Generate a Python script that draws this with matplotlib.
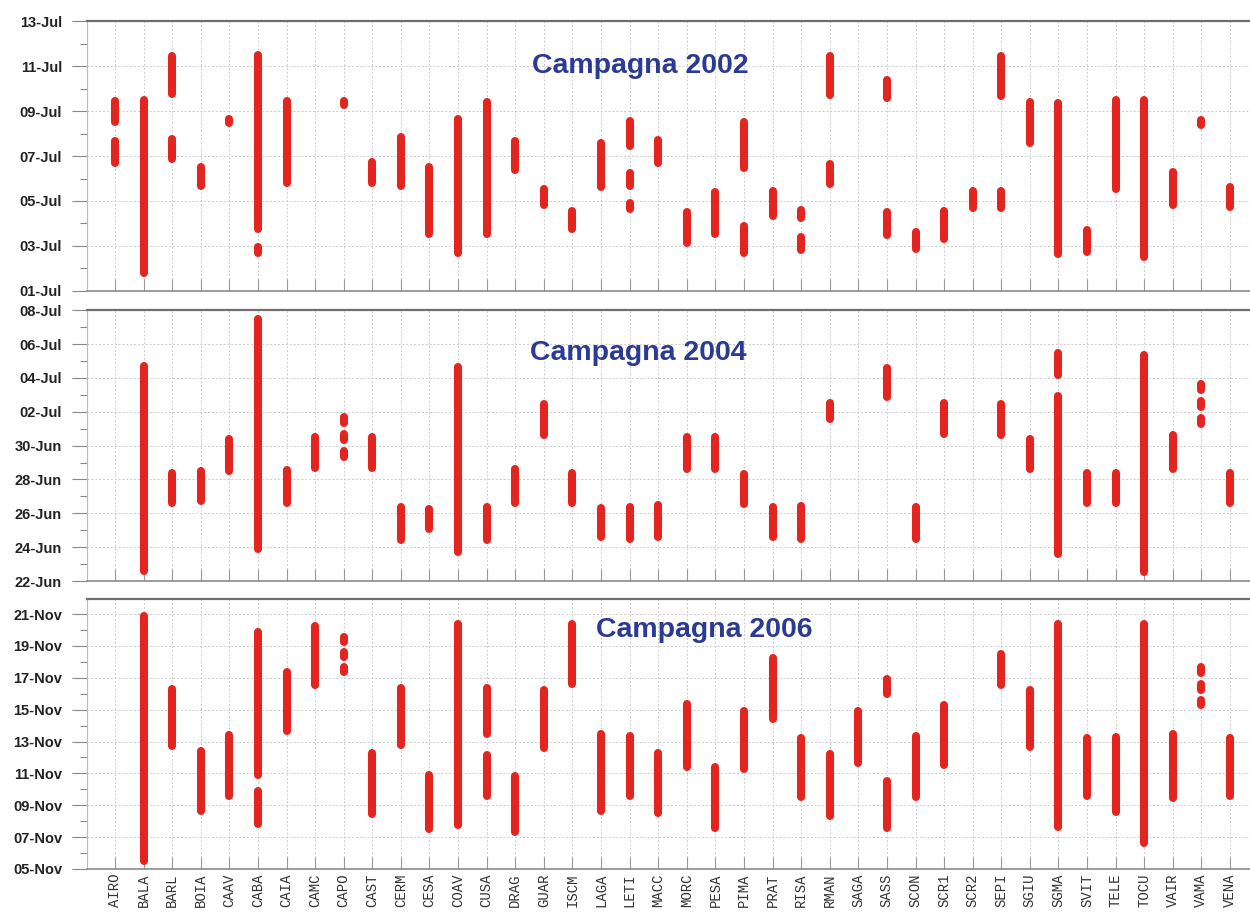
import datetime as dt
import numpy as np
import matplotlib
matplotlib.use("Agg")
import matplotlib.pyplot as plt
import matplotlib.dates as mdates
from matplotlib.ticker import MultipleLocator, FixedLocator

# station codes along the x axis
stations = ["AIRO", "BALA", "BARL", "BOIA", "CAAV", "CABA", "CAIA", "CAMC", "CAPO", "CAST",
            "CERM", "CESA", "COAV", "CUSA", "DRAG", "GUAR", "ISCM", "LAGA", "LETI", "MACC",
            "MORC", "PESA", "PIMA", "PRAT", "RISA", "RMAN", "SAGA", "SASS", "SCON", "SCR1",
            "SCR2", "SEPI", "SGIU", "SGMA", "SVIT", "TELE", "TOCU", "VAIR", "VAMA", "VENA"]

# Campagna 2002 - (station, start day, end day), days of July
camp_2002 = [
    ("AIRO", 8.5, 9.45), ("AIRO", 6.7, 7.65), ("BALA", 1.8, 9.5),
    ("BARL", 9.75, 11.45), ("BARL", 6.85, 7.75), ("BOIA", 5.65, 6.5),
    ("CAAV", 8.45, 8.65), ("CABA", 3.75, 11.5), ("CABA", 2.7, 2.95),
    ("CAIA", 5.8, 9.45), ("CAPO", 9.25, 9.45), ("CAST", 5.8, 6.75),
    ("CERM", 5.65, 7.85), ("CESA", 3.55, 6.5), ("COAV", 2.7, 8.65),
    ("CUSA", 3.55, 9.4), ("DRAG", 6.4, 7.65), ("GUAR", 4.8, 5.55),
    ("ISCM", 3.75, 4.55), ("LAGA", 5.6, 7.6), ("LETI", 7.45, 8.55),
    ("LETI", 5.65, 6.25), ("LETI", 4.65, 4.9), ("MACC", 6.7, 7.7),
    ("MORC", 3.15, 4.5), ("PESA", 3.55, 5.4), ("PIMA", 6.45, 8.5),
    ("PIMA", 2.7, 3.9), ("PRAT", 4.35, 5.45), ("RISA", 4.25, 4.6),
    ("RISA", 2.8, 3.4), ("RMAN", 9.7, 11.45), ("RMAN", 5.75, 6.65),
    ("SASS", 9.6, 10.4), ("SASS", 3.5, 4.5), ("SCON", 2.85, 3.6),
    ("SCR1", 3.3, 4.55), ("SCR2", 4.7, 5.45), ("SEPI", 9.65, 11.45),
    ("SEPI", 4.7, 5.45), ("SGIU", 7.6, 9.4), ("SGMA", 2.65, 9.35),
    ("SVIT", 2.75, 3.7), ("TELE", 5.55, 9.5), ("TOCU", 2.5, 9.5),
    ("VAIR", 4.8, 6.3), ("VAMA", 8.4, 8.6), ("VENA", 4.75, 5.6),
]

# Campagna 2004 - days counted from 1 June (31 = 1 July)
camp_2004 = [
    ("BALA", 22.6, 34.7), ("BARL", 26.6, 28.4), ("BOIA", 26.7, 28.5),
    ("CAAV", 28.5, 30.4), ("CABA", 23.9, 37.45), ("CAIA", 26.6, 28.55),
    ("CAMC", 28.7, 30.5), ("CAPO", 31.35, 31.7), ("CAPO", 30.35, 30.7),
    ("CAPO", 29.35, 29.7), ("CAST", 28.7, 30.5), ("CERM", 24.45, 26.4),
    ("CESA", 25.1, 26.25), ("COAV", 23.7, 34.65), ("CUSA", 24.4, 26.35),
    ("DRAG", 26.6, 28.6), ("GUAR", 30.65, 32.45), ("ISCM", 26.6, 28.4),
    ("LAGA", 24.6, 26.3), ("LETI", 24.5, 26.35), ("MACC", 24.6, 26.5),
    ("MORC", 28.6, 30.5), ("PESA", 28.6, 30.5), ("PIMA", 26.55, 28.35),
    ("PRAT", 24.6, 26.4), ("RISA", 24.5, 26.45), ("RMAN", 31.6, 32.5),
    ("SASS", 32.85, 34.6), ("SCON", 24.5, 26.4), ("SCR1", 30.7, 32.5),
    ("SEPI", 30.6, 32.45), ("SGIU", 28.6, 30.4), ("SGMA", 34.15, 35.45),
    ("SGMA", 23.6, 32.95), ("SVIT", 26.6, 28.4), ("TELE", 26.6, 28.4),
    ("TOCU", 22.55, 35.35), ("VAIR", 28.6, 30.6), ("VAMA", 33.3, 33.65),
    ("VAMA", 32.3, 32.65), ("VAMA", 31.3, 31.65), ("VENA", 26.6, 28.4),
]

# Campagna 2006 - days of November
camp_2006 = [
    ("BALA", 5.5, 20.9), ("BARL", 12.7, 16.3), ("BOIA", 8.65, 12.4),
    ("CAAV", 9.6, 13.4), ("CABA", 10.9, 19.9), ("CABA", 7.8, 9.9),
    ("CAIA", 13.65, 17.35), ("CAMC", 16.55, 20.25), ("CAPO", 19.25, 19.55),
    ("CAPO", 18.3, 18.6), ("CAPO", 17.35, 17.65), ("CAST", 8.45, 12.3),
    ("CERM", 12.75, 16.35), ("CESA", 7.5, 10.9), ("COAV", 7.75, 20.35),
    ("CUSA", 13.5, 16.35), ("CUSA", 9.55, 12.15), ("DRAG", 7.3, 10.85),
    ("GUAR", 12.6, 16.25), ("ISCM", 16.6, 20.35), ("LAGA", 8.65, 13.45),
    ("LETI", 9.6, 13.35), ("MACC", 8.5, 12.3), ("MORC", 11.4, 15.35),
    ("PESA", 7.6, 11.4), ("PIMA", 11.3, 14.9), ("PRAT", 14.4, 18.25),
    ("RISA", 9.5, 13.25), ("RMAN", 8.35, 12.2), ("SAGA", 11.65, 14.9),
    ("SASS", 16.0, 16.9), ("SASS", 7.55, 10.55), ("SCON", 9.5, 13.35),
    ("SCR1", 11.55, 15.3), ("SEPI", 16.55, 18.5), ("SGIU", 12.65, 16.25),
    ("SGMA", 7.65, 20.4), ("SVIT", 9.6, 13.2), ("TELE", 8.55, 13.3),
    ("TOCU", 6.65, 20.35), ("VAIR", 9.45, 13.45), ("VAMA", 17.3, 17.65),
    ("VAMA", 16.25, 16.6), ("VAMA", 15.3, 15.6), ("VENA", 9.55, 13.2),
]

# panel settings: data, month origin, y-range (in same day units), title
panels = [
    (camp_2002, dt.datetime(2002, 7, 1), (1, 13), "Campagna 2002", (0.476, 0.834)),
    (camp_2004, dt.datetime(2004, 6, 1), (22, 38), "Campagna 2004", (0.474, 0.842)),
    (camp_2006, dt.datetime(2006, 11, 1), (5, 21.94), "Campagna 2006", (0.531, 0.887)),
]

# axes rectangles (figure fractions)
rects = [
    [0.0696, 0.682, 0.9304, 0.295],
    [0.0696, 0.365, 0.9304, 0.296],
    [0.0696, 0.0503, 0.9304, 0.295],
]

RED = "#e3241f"
BLUE = "#2b3a92"

fig = plt.figure(figsize=(12.5, 9.15), dpi=100)
xpos = np.arange(len(stations))

for (data, origin, (lo, hi), title, tpos), rect in zip(panels, rects):
    ax = fig.add_axes(rect)
    base = mdates.date2num(origin) - 1
    x = [stations.index(s) for s, _, _ in data]
    y0 = [base + a for _, a, _ in data]
    y1 = [base + b for _, _, b in data]
    ax.vlines(x, y0, y1, colors=RED, linewidth=5.8, capstyle="round", zorder=3)

    ax.set_xlim(-0.98, 39.7)
    ax.set_ylim(base + lo, base + hi)

    # y ticks: every 2 days, minor every day
    ax.yaxis.set_major_locator(FixedLocator(base + np.arange(lo, hi + 0.01, 2)))
    ax.yaxis.set_minor_locator(MultipleLocator(1))
    ax.yaxis.set_major_formatter(mdates.DateFormatter("%d-%b"))
    ax.tick_params(axis="y", which="major", length=11, width=0.8, color="#888888",
                   pad=7, labelsize=10.5, labelcolor="#222222")
    ax.tick_params(axis="y", which="minor", length=5, width=0.8, color="#888888")
    for lab in ax.get_yticklabels():
        lab.set_fontfamily("Liberation Sans")
        lab.set_fontweight("bold")

    ax.set_xticks(xpos)
    ax.tick_params(axis="x", direction="in", length=9, width=0.8, color="#999999")
    if rect is rects[-1]:
        ax.set_xticklabels(stations, rotation=90, fontfamily="Liberation Mono",
                           fontsize=10, color="#333333")
    else:
        ax.set_xticklabels([])

    ax.grid(True, which="major", color="#cccccc", linestyle=(0, (2, 2)), linewidth=0.7)
    ax.set_axisbelow(True)

    ax.spines["top"].set_color("#6e6e6e")
    ax.spines["top"].set_linewidth(1.6)
    ax.spines["bottom"].set_color("#8a8a8a")
    ax.spines["bottom"].set_linewidth(1.2)
    ax.spines["left"].set_color("#bbbbbb")
    ax.spines["left"].set_linewidth(0.8)
    ax.spines["right"].set_visible(False)

    ax.text(tpos[0], tpos[1], title, transform=ax.transAxes, ha="center", va="center",
            fontsize=20.5, fontweight="bold", color=BLUE, family="Liberation Sans", zorder=4)

fig.savefig("out.png", dpi=100)
